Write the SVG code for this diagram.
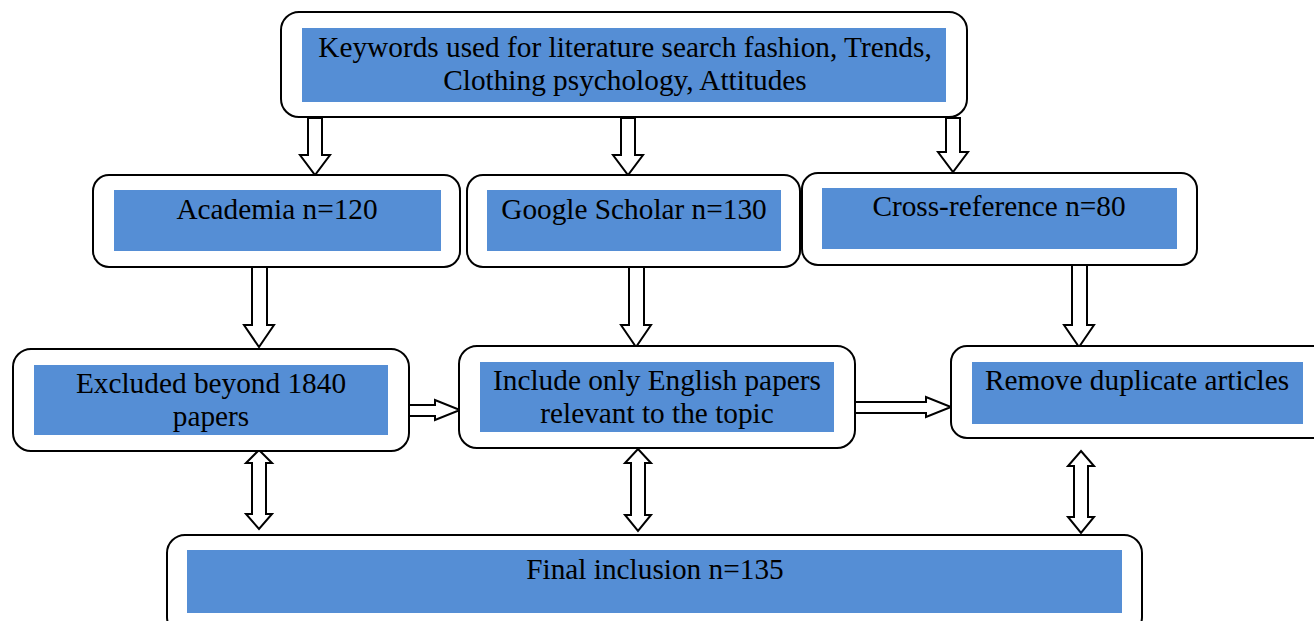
<svg xmlns="http://www.w3.org/2000/svg" width="1314" height="621" viewBox="0 0 1314 621">
<style>
.box{fill:#fff;stroke:#000;stroke-width:2}
.in{fill:#558ed5}
.t{font-family:"Liberation Serif","Times New Roman",serif;font-size:29.3px;fill:#000;text-anchor:middle}
.ar{fill:#fff;stroke:#000;stroke-width:2;stroke-linejoin:miter}
</style>
<rect width="1314" height="621" fill="#fff"/>
<g id="connectors">
<polygon class="ar" points="308,118 322,118 322,155 330,155 315,175 300,155 308,155"/>
<polygon class="ar" points="621,118 635,118 635,155 643,155 628,175 613,155 621,155"/>
<polygon class="ar" points="946,118 960,118 960,152 968,152 953,172 938,152 946,152"/>
<polygon class="ar" points="252,261 267,261 267,325 274,325 259,347 244,325 252,325"/>
<polygon class="ar" points="629,261 644,261 644,325 651,325 636,347 621,325 629,325"/>
<polygon class="ar" points="1072,263 1087,263 1087,325 1094,325 1079,347 1064,325 1072,325"/>
<polygon class="ar" points="409,405 435,405 435,400 460,410 435,420 435,416 409,416"/>
<polygon class="ar" points="855,402 926,402 926,397 951,407 926,417 926,413 855,413"/>
<polygon class="ar" points="259,450 272,463 266,463 266,514 272,514 259,529 246,514 252,514 252,463 246,463"/>
<polygon class="ar" points="638,449 651,463 645,463 645,515 651,515 638,531 625,515 631,515 631,463 625,463"/>
<polygon class="ar" points="1081,451 1094,466 1088,466 1088,517 1094,517 1081,533 1068,517 1074,517 1074,466 1068,466"/>
</g>
<g id="keywords">
<rect class="box" x="281" y="12" width="686" height="105" rx="18"/>
<rect class="in" x="302" y="28" width="644" height="74"/>
<text class="t" x="625" y="57">Keywords used for literature search fashion, Trends,</text>
<text class="t" x="625" y="90">Clothing psychology, Attitudes</text>
</g>
<g id="academia">
<rect class="box" x="93" y="175" width="367" height="92" rx="16"/>
<rect class="in" x="114" y="190" width="327" height="61"/>
<text class="t" x="277" y="219">Academia n=120</text>
</g>
<g id="google">
<rect class="box" x="467" y="175" width="333" height="92" rx="16"/>
<rect class="in" x="487" y="190" width="294" height="61"/>
<text class="t" x="634" y="219">Google Scholar n=130</text>
</g>
<g id="crossref">
<rect class="box" x="802" y="173" width="395" height="92" rx="16"/>
<rect class="in" x="822" y="188" width="355" height="61"/>
<text class="t" x="999" y="216">Cross-reference n=80</text>
</g>
<g id="excluded">
<rect class="box" x="13" y="349" width="396" height="102" rx="18"/>
<rect class="in" x="34" y="365" width="354" height="70"/>
<text class="t" x="211" y="393">Excluded beyond 1840</text>
<text class="t" x="211" y="426">papers</text>
</g>
<g id="include">
<rect class="box" x="459" y="346" width="396" height="102" rx="18"/>
<rect class="in" x="480" y="362" width="354" height="70"/>
<text class="t" x="657" y="390">Include only English papers</text>
<text class="t" x="657" y="423">relevant to the topic</text>
</g>
<g id="remove">
<rect class="box" x="951" y="346" width="380" height="92" rx="16"/>
<rect class="in" x="972" y="362" width="331" height="62"/>
<text class="t" x="1137" y="390">Remove duplicate articles</text>
</g>
<g id="final">
<rect class="box" x="167" y="535" width="975" height="100" rx="18"/>
<rect class="in" x="187" y="550" width="935" height="63"/>
<text class="t" x="655" y="579">Final inclusion n=135</text>
</g>
</svg>
